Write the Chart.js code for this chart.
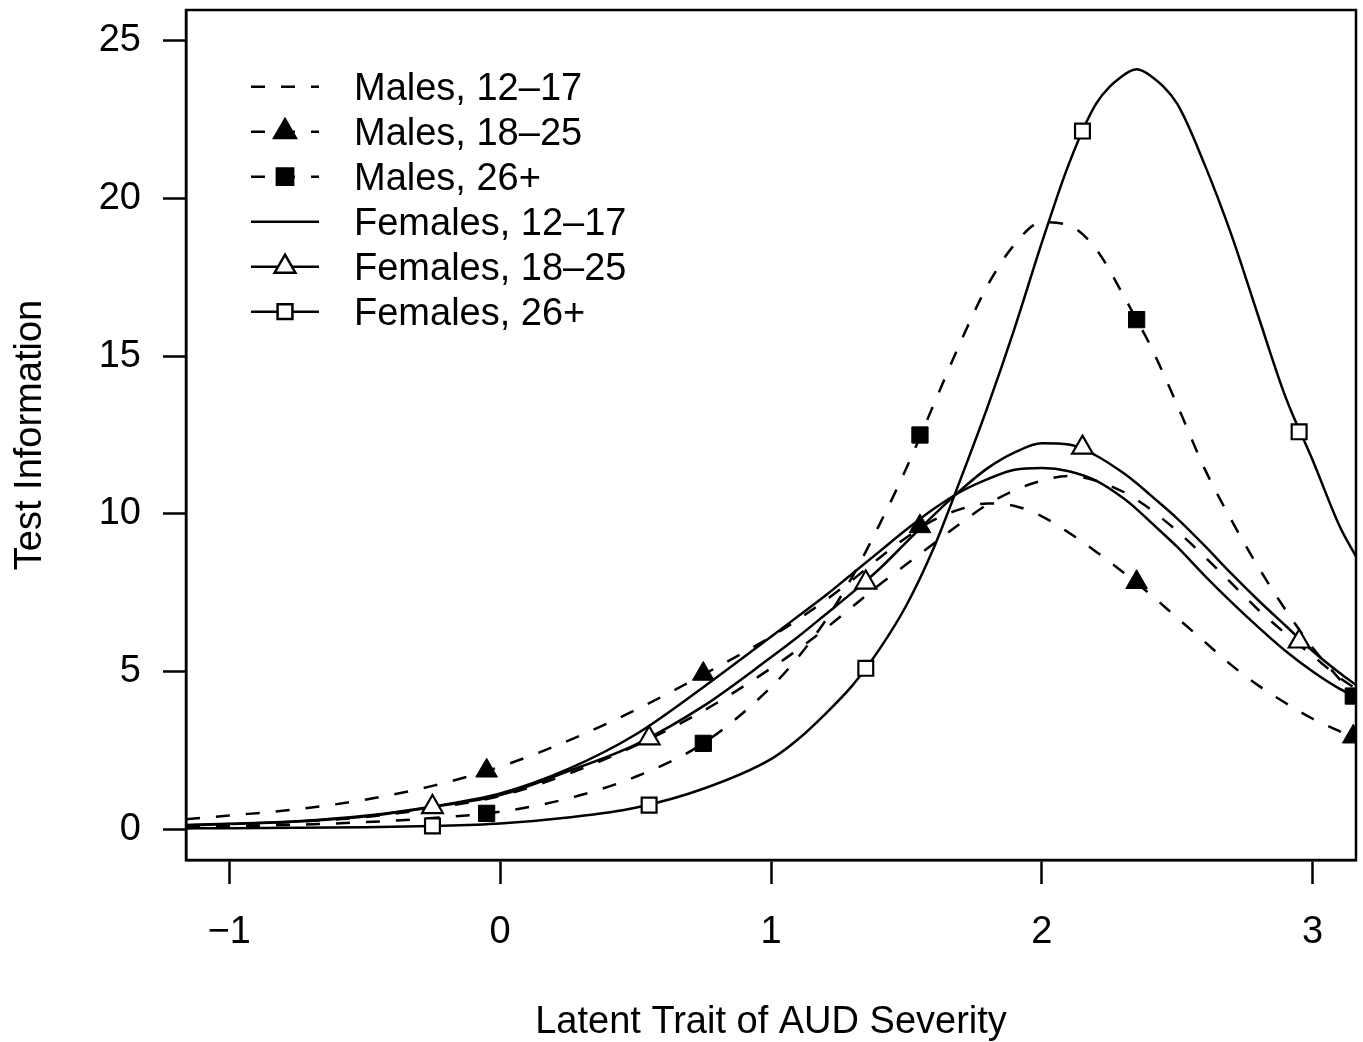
<!DOCTYPE html>
<html>
<head>
<meta charset="utf-8">
<script src="https://cdn.jsdelivr.net/npm/chart.js@4.4.0/dist/chart.umd.min.js"></script>
<style>
  html, body { margin: 0; padding: 0; background: #fff; }
  #wrap { width: 1363px; height: 1042px; }
</style>
</head>
<body>
<div id="wrap"><canvas id="chart" width="1363" height="1042"></canvas></div>
<script>
let theta = [-1.16, -1, -0.75, -0.5, -0.25, 0, 0.25, 0.5, 0.75, 1, 1.1, 1.2, 1.3, 1.4, 1.5, 1.6,
  1.7, 1.8, 1.9, 2, 2.1, 2.2, 2.3, 2.35, 2.4, 2.5, 2.6, 2.7, 2.8, 2.9, 3, 3.1, 3.16];

// test information curves
let males1217 = [0.11, 0.15, 0.23, 0.38, 0.66, 1.05, 1.75, 2.65, 3.75, 5.1, 5.7, 6.35, 7.05, 7.75, 8.4, 9.05,
  9.7, 10.3, 10.75, 11.05, 11.2, 11.05, 10.7, 10.45, 10.15, 9.45, 8.65, 7.8, 6.95, 6.2, 5.5, 4.8, 4.45];
let males1825 = [0.31, 0.43, 0.63, 0.93, 1.37, 1.98, 2.8, 3.78, 4.9, 6.1, 6.65, 7.25, 7.9, 8.6, 9.25, 9.8,
  10.15, 10.33, 10.25, 9.92, 9.4, 8.8, 8.15, 7.8, 7.45, 6.7, 5.95, 5.2, 4.55, 4.0, 3.5, 3.1, 2.85];
let males26 = [0.07, 0.09, 0.14, 0.22, 0.35, 0.55, 0.97, 1.66, 2.72, 4.5, 5.45, 6.6, 8.0, 9.65, 11.45, 13.45,
  15.45, 17.25, 18.55, 19.25, 19.15, 18.4, 16.95, 16.15, 15.35, 13.45, 11.45, 9.8, 8.3, 6.95, 5.75, 4.75, 4.15];
let females1217 = [0.13, 0.17, 0.25, 0.42, 0.72, 1.13, 1.9, 3.0, 4.5, 6.1, 6.75, 7.4, 8.1, 8.8, 9.5, 10.15,
  10.7, 11.1, 11.4, 11.45, 11.35, 11.05, 10.5, 10.15, 9.75, 8.95, 8.05, 7.2, 6.4, 5.65, 5.0, 4.45, 4.2];
let females1825 = [0.12, 0.16, 0.24, 0.4, 0.7, 1.08, 1.83, 2.68, 3.9, 5.45, 6.1, 6.8, 7.5, 8.25, 9.1, 9.95,
  10.75, 11.45, 11.95, 12.24, 12.2, 11.85, 11.3, 10.97, 10.6, 9.85, 9.0, 8.1, 7.25, 6.45, 5.65, 4.95, 4.57];
let females26 = [0.02, 0.03, 0.04, 0.06, 0.1, 0.18, 0.37, 0.68, 1.28, 2.22, 2.85, 3.65, 4.55, 5.7, 7.1, 8.9,
  11.1, 13.4, 15.9, 18.6, 21.1, 23.0, 23.9, 24.1, 23.9, 23.0, 21.1, 18.85, 16.25, 13.7, 11.7, 9.6, 8.65];

// plotting symbols
let maleMarkX = [-0.05, 0.75, 1.55, 2.35, 3.15];
let femaleMarkX = [-0.25, 0.55, 1.35, 2.15, 2.95];
let males1825Marks = [1.85, 4.92, 9.6, 7.83, 2.93];
let males26Marks = [0.5, 2.72, 12.5, 16.16, 4.22];
let females1825Marks = [0.7, 2.88, 7.82, 12.1, 5.95];
let females26Marks = [0.1, 0.76, 5.1, 22.14, 12.6];

// axes
let xTicks = [-1, 0, 1, 2, 3];
let yTicks = [0, 5, 10, 15, 20, 25];
let seriesNames = ["Males, 12\u201317", "Males, 18\u201325", "Males, 26+",
  "Females, 12\u201317", "Females, 18\u201325", "Females, 26+"];

let fontFam = "'Liberation Sans', Arial, Helvetica, sans-serif";
let dash = [14, 16];

let toPoints = (xs, ys) => xs.map((x, i) => ({ x: x, y: ys[i] }));

let curve = (name, ys, dashed) => ({
  label: name,
  data: toPoints(theta, ys),
  showLine: true,
  borderColor: "#000",
  borderWidth: 2.5,
  borderDash: dashed ? dash : [],
  pointRadius: 0,
  cubicInterpolationMode: "monotone",
  fill: false,
  clip: 0,
  order: 2,
});

let marks = (name, xs, ys, style, filled, r) => ({
  label: name + " marks",
  data: toPoints(xs, ys),
  showLine: false,
  pointStyle: style,
  pointRadius: r,
  pointBorderWidth: filled ? 1 : 2.2,
  pointBackgroundColor: filled ? "#000" : "#fff",
  pointBorderColor: "#000",
  clip: 0,
  order: 1,
});

// symbol of each legend row: dashed line?, point style, filled?, radius
let legendRows = [
  [true, null, false, 0],
  [true, "triangle", true, 12.5],
  [true, "rect", true, 11.5],
  [false, null, false, 0],
  [false, "triangle", false, 12],
  [false, "rect", false, 10.5],
];

let boxAndLegend = {
  id: "boxAndLegend",
  afterDatasetsDraw(chart) {
    let ctx = chart.ctx;
    let a = chart.chartArea;
    ctx.save();
    ctx.strokeStyle = "#000";
    ctx.lineWidth = 2.5;
    ctx.setLineDash([]);
    ctx.strokeRect(a.left, a.top, a.right - a.left, a.bottom - a.top);

    // legend, top left, no frame
    let x0 = 251, x1 = 319, xm = 285, xt = 354;
    legendRows.forEach((row, i) => {
      let yc = 86.7 + i * 45;
      ctx.beginPath();
      ctx.setLineDash(row[0] ? dash : []);
      ctx.lineWidth = 2.5;
      ctx.moveTo(x0, yc);
      ctx.lineTo(x1, yc);
      ctx.stroke();
      ctx.setLineDash([]);
      if (row[1]) {
        ctx.fillStyle = row[2] ? "#000" : "#fff";
        ctx.strokeStyle = "#000";
        Chart.helpers.drawPoint(ctx, {
          pointStyle: row[1], radius: row[3], rotation: 0, borderWidth: row[2] ? 1 : 2.2,
        }, xm, yc);
      }
      ctx.fillStyle = "#000";
      ctx.font = "38px " + fontFam;
      ctx.textAlign = "left";
      ctx.textBaseline = "alphabetic";
      ctx.fillText(seriesNames[i], xt, yc + 13.6);
    });
    ctx.restore();
  },
};

let minusLabel = (v) => (v < 0 ? "\u2212" + Math.abs(v) : String(v));

new Chart(document.getElementById("chart"), {
  type: "scatter",
  data: {
    datasets: [
      marks(seriesNames[1], maleMarkX, males1825Marks, "triangle", true, 12.5),
      marks(seriesNames[2], maleMarkX, males26Marks, "rect", true, 11.5),
      marks(seriesNames[4], femaleMarkX, females1825Marks, "triangle", false, 12),
      marks(seriesNames[5], femaleMarkX, females26Marks, "rect", false, 10.5),
      curve(seriesNames[0], males1217, true),
      curve(seriesNames[1], males1825, true),
      curve(seriesNames[2], males26, true),
      curve(seriesNames[3], females1217, false),
      curve(seriesNames[4], females1825, false),
      curve(seriesNames[5], females26, false),
    ],
  },
  options: {
    responsive: false,
    animation: false,
    devicePixelRatio: 1,
    layout: { autoPadding: false, padding: { top: 10, right: 7, left: 0, bottom: 0 } },
    plugins: { legend: { display: false }, tooltip: { enabled: false } },
    scales: {
      x: {
        type: "linear",
        min: -1.16,
        max: 3.16,
        afterBuildTicks: (s) => { s.ticks = xTicks.map((v) => ({ value: v })); },
        afterFit: (s) => { s.height = 182; s.paddingLeft = 0; s.paddingRight = 0; },
        grid: { drawOnChartArea: false, drawTicks: true, tickLength: 24, tickWidth: 2.5, tickColor: "#000", color: "#000" },
        border: { display: true, color: "#000", width: 2.5 },
        ticks: {
          autoSkip: false, maxRotation: 0, minRotation: 0, padding: 26, color: "#000",
          font: { family: fontFam, size: 38 },
          callback: (v) => minusLabel(v),
        },
        title: {
          display: true, text: "Latent Trait of AUD Severity", color: "#000",
          font: { family: fontFam, size: 38, lineHeight: 1 },
          padding: { top: 0, bottom: 0 },
        },
      },
      y: {
        type: "linear",
        min: -0.98,
        max: 25.98,
        afterBuildTicks: (s) => { s.ticks = yTicks.map((v) => ({ value: v })); },
        afterFit: (s) => { s.width = 186; s.paddingTop = 0; s.paddingBottom = 0; },
        grid: { drawOnChartArea: false, drawTicks: true, tickLength: 23, tickWidth: 2.5, tickColor: "#000", color: "#000" },
        border: { display: true, color: "#000", width: 2.5 },
        ticks: {
          autoSkip: false, padding: 22, color: "#000",
          font: { family: fontFam, size: 38 },
          callback: (v) => minusLabel(v),
        },
        title: {
          display: true, text: "Test Information", color: "#000",
          font: { family: fontFam, size: 38, lineHeight: 1 },
          padding: { top: 12, bottom: 0 },
        },
      },
    },
  },
  plugins: [boxAndLegend],
});
</script>
</body>
</html>
